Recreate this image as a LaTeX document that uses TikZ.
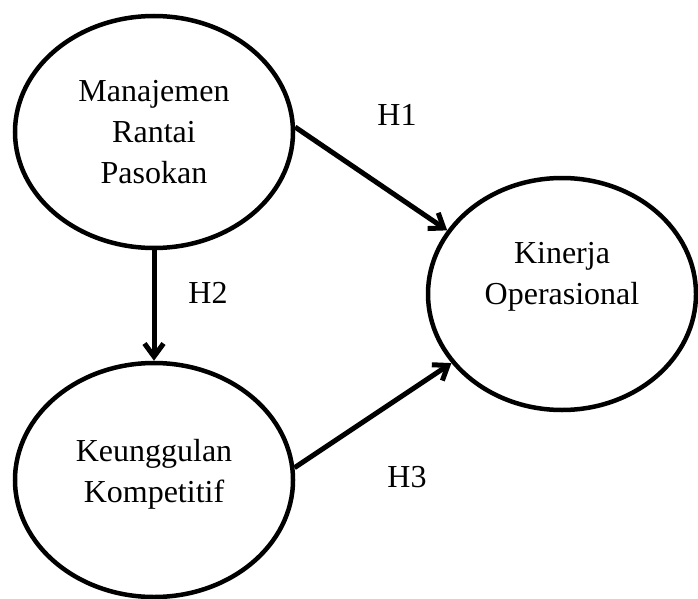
\documentclass[tikz,border=0pt]{standalone}
\usepackage{fontspec}
\setmainfont{Liberation Serif}
\usetikzlibrary{shapes.geometric,arrows.meta}
\begin{document}
\begin{tikzpicture}[x=1pt,y=-1pt,
  latent/.style={draw, ellipse, line width=4.5pt, inner sep=0pt},
  txt/.style={font=\fontsize{32}{41}\selectfont, align=center, inner sep=0pt},
  hyp/.style={line width=5pt, -{Straight Barb[length=13pt,width=19pt]}}]
\useasboundingbox (0,0) rectangle (698,599);
\node[latent, minimum width=278pt, minimum height=232pt] (m) at (154,132) {};
\node[latent, minimum width=278pt, minimum height=234pt] (k) at (154,480) {};
\node[latent, minimum width=268pt, minimum height=232pt] (o) at (562,294) {};
\node[txt] (mt) at (154,132) {Manajemen\\Rantai\\Pasokan};
\node[txt] (kt) at (154,474) {Keunggulan\\Kompetitif};
\node[txt] (ot) at (562,277) {Kinerja\\Operasional};
\draw[hyp] (m.2) -- (o.151);
\draw[hyp] (m.south) -- (k.north);
\draw[hyp] (k.5) -- (o.212);
\node[txt] (h1) at (397,115) {H1};
\node[txt] (h2) at (208,293) {H2};
\node[txt] (h3) at (407,477) {H3};
\end{tikzpicture}
\end{document}
